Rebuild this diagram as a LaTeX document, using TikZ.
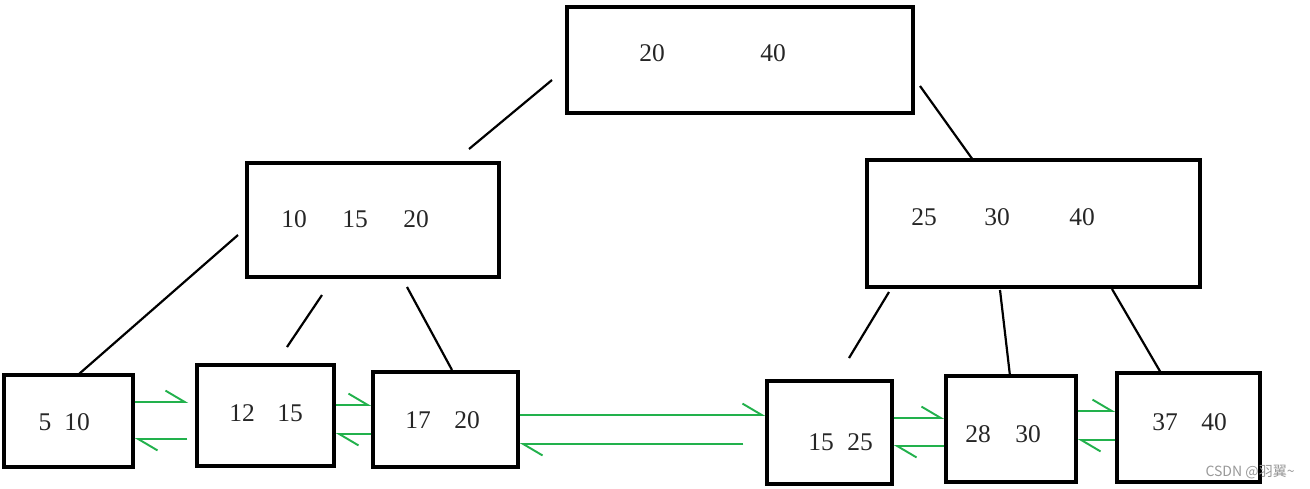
\documentclass[tikz,border=0pt]{standalone}
\usepackage{fontspec}
\setmainfont{Liberation Serif}
\newfontfamily\cjkfont{Noto Sans CJK SC}
\usetikzlibrary{arrows.meta}
\definecolor{linkgreen}{RGB}{34,177,76}
\begin{document}
\begin{tikzpicture}
[x=0.02cm,y=-0.02cm,
 boxdecorate/.style={shape=rectangle,inner sep=0pt,draw,line width=1.9pt},%
 numdecorate/.style={inner sep=0pt,text=black!85,font=\fontsize{14.5}{16}\selectfont},%
 linedecorate/.style={-,line width=1.25pt},%
 linkdecorate/.style={draw=linkgreen,line width=1.1pt,-{Straight Barb[left,length=11pt,width=13pt]}}]
\useasboundingbox (0,0) rectangle (1310,488);
%% nodes or boxes
\foreach \nodename/\x/\y/\w/\h in {Root/740/60/346/106, Left/373/220/252/114,
  Right/1033.5/223.5/333/127, Leaf1/68.5/421/129/92, Leaf2/265.5/415.5/137/101,
  Leaf3/445.5/419.5/145/95, Leaf4/829.5/432.5/125/103, Leaf5/1011/429/130/106,
  Leaf6/1188.5/427.5/143/109} {
  \node (\nodename) at (\x,\y) [boxdecorate,minimum width=\w*0.02cm,minimum height=\h*0.02cm] {};
}
%% keys
\foreach \x/\y/\txt [count=\i] in {652/53/20, 773/53/40, 294/219/10, 355/219/15,
  416/219/20, 924/217/25, 997/217/30, 1082/217/40, 45/422/5, 77/422/10,
  242/413/12, 290/413/15, 418/420/17, 467/420/20, 821/442/15, 860/442/25,
  978/434/28, 1028/434/30, 1165/422/37, 1214/422/40} {
  \node (key\i) at (\x,\y) [numdecorate] {\txt};
}
%% ends of the tree lines
\foreach \name/\x/\y in {RootA/552/80, LeftTop/469/149, RootB/920/86, RightTop/973/160,
  LeftA/238/235, Leaf1Top/79/374, LeftB/322/295, Leaf2Top/287/347,
  LeftC/407/287, Leaf3Top/452/370, RightA/889/292, Leaf4Top/849/358,
  RightB/1000/290, Leaf5Top/1010/376, RightC/1112/289, Leaf6Top/1161/373} {
  \coordinate (\name) at (\x,\y);
}
%% tree lines
\path
\foreach \startnode/\endnode in {RootA/LeftTop, RootB/RightTop, LeftA/Leaf1Top,
  LeftB/Leaf2Top, LeftC/Leaf3Top, RightA/Leaf4Top, RightB/Leaf5Top, RightC/Leaf6Top} {
  (\startnode) edge[linedecorate] (\endnode)
};
%% leaf links
\foreach \a/\b/\ya/\yb/\sa/\sb in {Leaf1/Leaf2/402/439/4pt/4.5pt, Leaf2/Leaf3/405/434/0pt/0pt,
  Leaf3/Leaf4/415/444/0pt/12.5pt, Leaf4/Leaf5/418/446/0pt/0pt, Leaf5/Leaf6/411/440/0pt/0pt} {
  \draw[linkdecorate,shorten >=\sa] (\a.east |- 0,\ya) -- (\b.west |- 0,\ya);
  \draw[linkdecorate,shorten <=\sb] (\b.west |- 0,\yb) -- (\a.east |- 0,\yb);
}
%% watermark
\node (mark) at (1295,472) [anchor=east,inner sep=0pt,text=black!40,font=\fontsize{8}{9}\selectfont\cjkfont] {CSDN @羽翼\textasciitilde};
\end{tikzpicture}
\end{document}
